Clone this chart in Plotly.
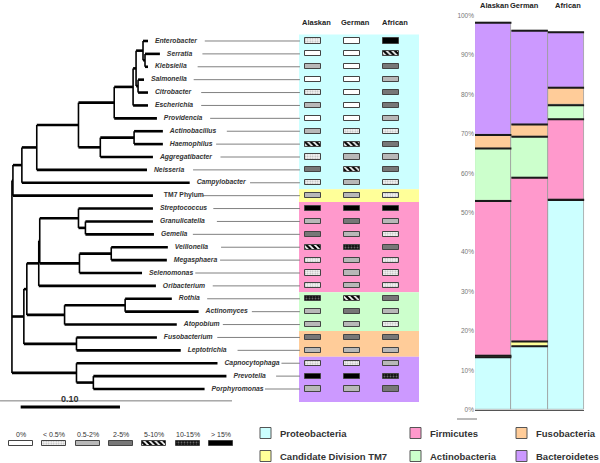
import plotly.graph_objects as go

# ---------------- data ----------------
taxa = ["Enterobacter", "Serratia", "Klebsiella", "Salmonella", "Citrobacter",
        "Escherichia", "Providencia", "Actinobacillus", "Haemophilus",
        "Aggregatibacter", "Neisseria", "Campylobacter", "TM7 Phylum",
        "Streptococcus", "Granulicatella", "Gemella", "Veillonella",
        "Megasphaera", "Selenomonas", "Oribacterium", "Rothia", "Actinomyces",
        "Atopobium", "Fusobacterium", "Leptotrichia", "Capnocytophaga",
        "Prevotella", "Porphyromonas"]
tip_depth = [0.146, 0.158, 0.146, 0.142, 0.146, 0.146, 0.155, 0.161, 0.161,
             0.151, 0.145, 0.188, 0.151, 0.151, 0.151, 0.152, 0.166, 0.165,
             0.140, 0.154, 0.170, 0.197, 0.175, 0.155, 0.179, 0.216, 0.225,
             0.203]
# abundance class per taxon (index into abundance_bins)
alaskan = [1, 0, 2, 0, 1, 2, 0, 2, 4, 1, 3, 1, 2, 6, 2, 3, 4, 1, 1, 1, 5, 2, 2, 3, 2, 1, 6, 2]
german  = [0, 0, 0, 0, 0, 0, 0, 1, 4, 2, 4, 2, 2, 6, 3, 2, 5, 2, 2, 2, 4, 3, 2, 3, 2, 1, 6, 2]
african = [6, 4, 3, 2, 3, 3, 2, 1, 3, 2, 3, 1, 1, 6, 2, 1, 3, 1, 1, 1, 3, 2, 1, 3, 2, 2, 5, 3]
populations = ["Alaskan", "German", "African"]
abundance_bins = ["0%", "< 0.5%", "0.5-2%", "2-5%", "5-10%", "10-15%", "> 15%"]

phyla = ["Proteobacteria", "Candidate Division TM7", "Firmicutes",
         "Actinobacteria", "Fusobacteria", "Bacteroidetes"]
phylum_taxa_count = [12, 1, 7, 3, 2, 3]
proteo_pct = [13.3, 16.1, 53.2]
tm7_pct = [0.4, 1.2, 0.1]
firm_pct = [39.3, 41.6, 20.4]
actino_pct = [13.3, 10.4, 3.6]
fuso_pct = [3.4, 3.1, 4.4]
bact_pct = [28.5, 23.8, 14.1]
pct_ticks = [0, 10, 20, 30, 40, 50, 60, 70, 80, 90, 100]

# tree: internal node = (depth, [children]); leaf = taxon name
tree = (0.009, [
    (0.010, [
        (0.019, [
            (0.034, [
                (0.076, [
                    (0.112, [
                        (0.131, [
                            (0.134, [
                                (0.141, ["Enterobacter", (0.143, ["Serratia", "Klebsiella"])]),
                                (0.136, ["Salmonella", "Citrobacter"]),
                            ]),
                            "Escherichia",
                        ]),
                        "Providencia",
                    ]),
                    (0.098, [(0.132, ["Actinobacillus", "Haemophilus"]), "Aggregatibacter"]),
                ]),
                "Neisseria",
            ]),
            "Campylobacter",
        ]),
        "TM7 Phylum",
    ]),
    (0.021, [
        (0.024, [
            (0.036, [
                (0.037, [
                    (0.076, ["Streptococcus", (0.083, ["Granulicatella", "Gemella"])]),
                    (0.077, [(0.109, ["Veillonella", "Megasphaera"]), "Selenomonas"]),
                ]),
                "Oribacterium",
            ]),
            (0.062, [(0.123, ["Rothia", "Actinomyces"]), "Atopobium"]),
        ]),
        (0.074, ["Fusobacterium", "Leptotrichia"]),
    ]),
    (0.074, ["Capnocytophaga", (0.091, ["Prevotella", "Porphyromonas"])]),
])

# ---------------- style ----------------
FONT = "Liberation Sans"
TXT = "#333333"
phylum_colors = ["#ccffff", "#ffff99", "#ff99cc", "#ccffcc", "#ffcc99", "#cc99ff"]
cell_style = [
    dict(color="#ffffff"),
    dict(color="#eeeeee", pattern=dict(shape=".", bgcolor="#f4f4f4", fgcolor="#b4b4b4", size=2.5, solidity=0.3)),
    dict(color="#b8b8b8"),
    dict(color="#777777"),
    dict(color="#ffffff", pattern=dict(shape="\\", bgcolor="#ffffff", fgcolor="#000000", size=4, solidity=0.55)),
    dict(color="#111111", pattern=dict(shape=".", bgcolor="#111111", fgcolor="#666666", size=3, solidity=0.3)),
    dict(color="#000000"),
]

fig = go.Figure()

# ---------------- tree ----------------
depth_of = dict(zip(taxa, tip_depth))
row_of = {t: i for i, t in enumerate(taxa)}
hx, hy, vx, vy = [], [], [], []


def walk(node, parent_x):
    if isinstance(node, str):
        x, y = depth_of[node], row_of[node]
    else:
        x = node[0]
        ys = [walk(c, x) for c in node[1]]
        y = sum(ys) / len(ys)
        vx.extend([x, x, None]); vy.extend([min(ys), max(ys), None])
    if parent_x is not None:
        hx.extend([parent_x, x, None]); hy.extend([y, y, None])
    return y


walk(tree, None)
fig.add_trace(go.Scatter(x=vx, y=vy, mode="lines", line=dict(color="black", width=1.6),
                         hoverinfo="skip", showlegend=False))
fig.add_trace(go.Scatter(x=hx, y=hy, mode="lines", line=dict(color="black", width=2.6),
                         hoverinfo="skip", showlegend=False))

# labels and connector lines
gap = 0.007
char_w = 0.0036
cx, cy = [], []
for i, t in enumerate(taxa):
    start = tip_depth[i] + gap + len(t) * char_w + 0.007
    cx.extend([start, 0.299, None]); cy.extend([i, i, None])
fig.add_trace(go.Scatter(x=cx, y=cy, mode="lines", line=dict(color="#808080", width=1),
                         hoverinfo="skip", showlegend=False))
ital = [i for i, t in enumerate(taxa) if t != "TM7 Phylum"]
fig.add_trace(go.Scatter(
    x=[tip_depth[i] + gap for i in ital], y=ital, text=[taxa[i] for i in ital],
    mode="text", textposition="middle right",
    textfont=dict(family=FONT, size=6.8, color=TXT, weight="bold", style="italic"),
    hoverinfo="skip", showlegend=False))
tm = taxa.index("TM7 Phylum")
fig.add_trace(go.Scatter(
    x=[tip_depth[tm] + gap + 0.004], y=[tm], text=[taxa[tm]], mode="text", textposition="middle right",
    textfont=dict(family=FONT, size=6.8, color=TXT, weight="bold"),
    hoverinfo="skip", showlegend=False))

# scale bar
fig.add_trace(go.Scatter(x=[0.0178, 0.1178], y=[28.4, 28.4], mode="lines",
                         line=dict(color="black", width=3), hoverinfo="skip", showlegend=False))
fig.add_trace(go.Scatter(x=[-0.003, 0.2306], y=[27.92, 27.92], mode="lines",
                         line=dict(color="#7a7a7a", width=1), hoverinfo="skip", showlegend=False))
fig.add_annotation(x=0.0678, y=27.75, xref="x", yref="y", text="<b>0.10</b>", showarrow=False,
                   font=dict(family=FONT, size=9, color=TXT))

# ---------------- heatmap cells ----------------
cols = [alaskan, german, african]
for c in range(7):
    ys, bases = [], []
    for j, col in enumerate(cols):
        for i, v in enumerate(col):
            if v == c:
                ys.append(i); bases.append(j - 0.204)
    fig.add_trace(go.Bar(orientation="h", y=ys, x=[0.408] * len(ys), base=bases, width=0.4,
                         xaxis="x2", yaxis="y", marker=dict(line=dict(color="#444444", width=1),
                                                            **cell_style[c]),
                         hoverinfo="skip", showlegend=False))
for j, p in enumerate(populations):
    fig.add_annotation(x=j + 0.1, y=1 - 22 / 463, xref="x2", yref="paper", text=f"<b>{p}</b>",
                       showarrow=False, yanchor="middle",
                       font=dict(family=FONT, size=7.5, color="#222"))

# phylum background bands
shapes = []
r0 = 0
for k, n in enumerate(phylum_taxa_count):
    y0 = r0 - 0.5
    y1 = r0 + n - 0.5 if k < len(phyla) - 1 else r0 + n
    shapes.append(dict(type="rect", xref="paper", yref="y", x0=299 / 600, x1=419 / 600,
                       y0=y0, y1=y1, fillcolor=phylum_colors[k], line=dict(width=0), layer="below"))
    r0 += n

# ---------------- stacked bars ----------------
series = [proteo_pct, tm7_pct, firm_pct, actino_pct, fuso_pct, bact_pct]
cum = [0.0, 0.0, 0.0]
lx, ly = [], []
for k, vals in enumerate(series):
    fig.add_trace(go.Bar(x=[0, 1, 2], y=vals, base=list(cum), width=1, xaxis="x3", yaxis="y3",
                         marker=dict(color=phylum_colors[k], line=dict(color="#9a9a9a", width=0.8)),
                         hoverinfo="skip", showlegend=False))
    for j in range(3):
        cum[j] += vals[j]
        lx.extend([j - 0.5, j + 0.5, None]); ly.extend([cum[j], cum[j], None])
fig.add_trace(go.Scatter(x=lx, y=ly, mode="lines", xaxis="x3", yaxis="y3",
                         line=dict(color="#1a1a1a", width=2), hoverinfo="skip", showlegend=False))
for j, (p, off) in enumerate(zip(populations, [0.03, -0.14, 0.05])):
    fig.add_annotation(x=j + off, y=1 - 5.5 / 463, xref="x3", yref="paper", text=f"<b>{p}</b>",
                       showarrow=False, yanchor="middle",
                       font=dict(family=FONT, size=7.5, color="#222"))
shapes.append(dict(type="line", xref="paper", yref="paper", x0=457 / 600, x1=477 / 600,
                   y0=1 - 419 / 463, y1=1 - 419 / 463, line=dict(color="#777", width=1)))

# ---------------- abundance legend ----------------
for c in range(7):
    fig.add_trace(go.Bar(x=[c], y=[5], base=[440.8], width=0.72, xaxis="x4", yaxis="y4",
                         marker=dict(line=dict(color="#444444", width=1), **cell_style[c]),
                         hoverinfo="skip", showlegend=False))
    fig.add_annotation(x=c, y=434, xref="x4", yref="y4", text=abundance_bins[c], showarrow=False,
                       font=dict(family=FONT, size=7, color=TXT))

# ---------------- phylum legend ----------------
leg_x = [260, 260, 410, 410, 516, 516]
leg_y = [433, 456, 433, 456, 433, 456]
for k in range(len(phyla)):
    x0, yc = leg_x[k], leg_y[k]
    shapes.append(dict(type="rect", xref="paper", yref="paper", x0=x0 / 600, x1=(x0 + 11) / 600,
                       y0=1 - (yc + 5.5) / 463, y1=1 - (yc - 5.5) / 463,
                       fillcolor=phylum_colors[k], line=dict(color="#555555", width=1)))
    fig.add_annotation(x=(x0 + 18) / 600, y=1 - yc / 463, xref="paper", yref="paper",
                       text=f"<b>{phyla[k]}</b>", showarrow=False, xanchor="left", yanchor="middle",
                       font=dict(family=FONT, size=9.5, color=TXT))

hidden = dict(visible=False, automargin=False, showgrid=False, zeroline=False)
fig.update_layout(
    template="none",
    width=600, height=463, autosize=False,
    margin=dict(l=0, r=0, t=0, b=0, pad=0),
    paper_bgcolor="white", plot_bgcolor="rgba(0,0,0,0)",
    barmode="overlay", bargap=0, showlegend=False, shapes=shapes,
    xaxis=dict(domain=[0, 1], range=[-0.00302, 0.6012], **hidden),
    yaxis=dict(domain=[0, 1], range=[32.74, -3.18], **hidden),
    xaxis2=dict(domain=[299 / 600, 419 / 600], range=[-0.349, 2.712], anchor="y", **hidden),
    xaxis3=dict(domain=[475 / 600, 584.3 / 600], range=[-0.5, 2.5], anchor="y3", automargin=False,
                showline=True, linecolor="#555555", linewidth=1, showticklabels=False,
                ticks="", showgrid=False, zeroline=False),
    yaxis3=dict(domain=[1 - 409.7 / 463, 1 - 15.7 / 463], range=[0, 100], anchor="x3", automargin=False,
                tickmode="array", tickvals=pct_ticks, ticktext=[f"{v}%" for v in pct_ticks],
                tickfont=dict(family=FONT, size=6.5, color="#777"),
                showgrid=False, zeroline=False, showline=False, ticks=""),
    xaxis4=dict(domain=[0, 1], range=[-0.623, 17.34], anchor="y4", **hidden),
    yaxis4=dict(domain=[0, 1], range=[463, 0], anchor="x4", **hidden),
)

fig.write_html("out.html", config={"displayModeBar": False},
               post_script="document.body.style.margin='0px';document.body.style.overflow='hidden';")
